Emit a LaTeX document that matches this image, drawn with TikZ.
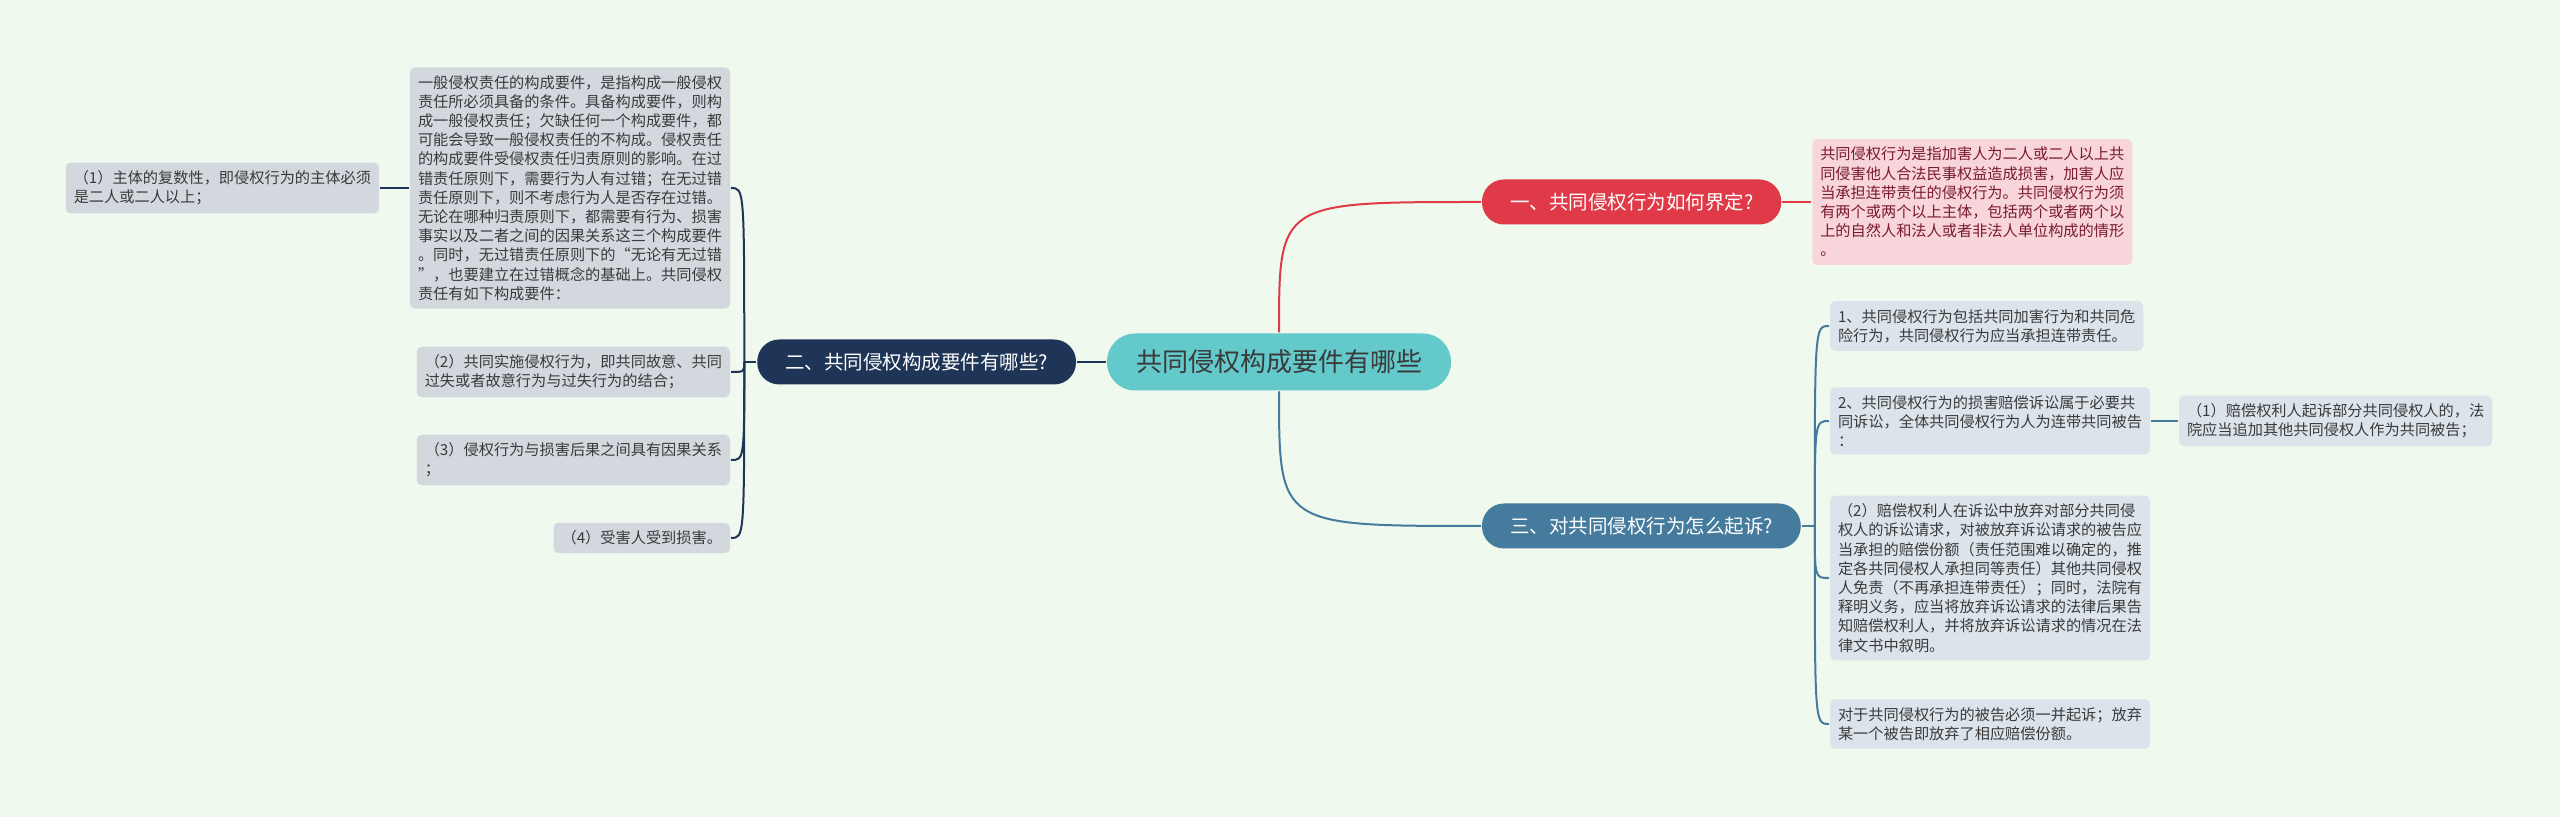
\documentclass[tikz,border=0pt]{standalone}
\usepackage{fontspec}
\setmainfont{Noto Sans CJK SC}
\usetikzlibrary{positioning}

\definecolor{bgc}{HTML}{F0F9EE}
\definecolor{rootc}{HTML}{63C9CB}
\definecolor{redc}{HTML}{E03A48}
\definecolor{navyc}{HTML}{1E3557}
\definecolor{steelc}{HTML}{457B9D}
\definecolor{pinkc}{HTML}{F8D5DA}
\definecolor{pinktxt}{HTML}{7A1B2B}
\definecolor{greyc}{HTML}{D3D8DF}
\definecolor{bluegreyc}{HTML}{DCE4EB}
\definecolor{txtc}{HTML}{3A3A3A}

\begin{document}
\begin{tikzpicture}[x=0.5pt, y=-0.5pt, line width=1pt]
\tikzstyle{root}=[fill=rootc, text=txtc, rounded corners=14pt, minimum height=28.5pt, inner xsep=14.5pt, font=\fontsize{13}{15}\selectfont]
\tikzstyle{topic}=[text=white, rounded corners=11pt, minimum height=22.5pt, inner xsep=14pt, font=\fontsize{9.75}{11}\selectfont]
\tikzstyle{leaf}=[fill=greyc, text=txtc, rounded corners=2.5pt, align=left, inner xsep=4pt, inner ysep=4pt, font=\fontsize{7.6}{9.6}\selectfont]
\tikzstyle{rleaf}=[leaf, fill=bluegreyc]
\tikzstyle{hook}=[to path={.. controls (\tikztostart |- \tikztotarget) .. (\tikztotarget) \tikztonodes}]

\fill[bgc] (0,0) rectangle (2560,817);
\useasboundingbox (0,0) rectangle (2560,817);

% main topics
\node[root]                            (c)  at (1279,362) {共同侵权构成要件有哪些};
\node[topic, fill=redc, anchor=west]   (n1) at (1481,202) {一、共同侵权行为如何界定?};
\node[topic, fill=navyc, left=14.5pt of c] (n2) {二、共同侵权构成要件有哪些?};
\node[topic, fill=steelc, anchor=west] (n3) at (1481,526) {三、对共同侵权行为怎么起诉?};

% branch one
\node[leaf, fill=pinkc, text=pinktxt, right=14.5pt of n1] (r1) {共同侵权行为是指加害人为二人或二人以上共\\
同侵害他人合法民事权益造成损害，加害人应\\
当承担连带责任的侵权行为。共同侵权行为须\\
有两个或两个以上主体，包括两个或者两个以\\
上的自然人和法人或者非法人单位构成的情形\\
。};

% branch two
\node[leaf, anchor=east] (l0) at (731,188) {一般侵权责任的构成要件，是指构成一般侵权\\
责任所必须具备的条件。具备构成要件，则构\\
成一般侵权责任；欠缺任何一个构成要件，都\\
可能会导致一般侵权责任的不构成。侵权责任\\
的构成要件受侵权责任归责原则的影响。在过\\
错责任原则下，需要行为人有过错；在无过错\\
责任原则下，则不考虑行为人是否存在过错。\\
无论在哪种归责原则下，都需要有行为、损害\\
事实以及二者之间的因果关系这三个构成要件\\
。同时，无过错责任原则下的“无论有无过错\\
”，也要建立在过错概念的基础上。共同侵权\\
责任有如下构成要件：};
\node[leaf, left=14.5pt of l0] (l1) {（1）主体的复数性，即侵权行为的主体必须\\
是二人或二人以上；};
\node[leaf, anchor=east] (l2) at (731,372) {（2）共同实施侵权行为，即共同故意、共同\\
过失或者故意行为与过失行为的结合；};
\node[leaf, anchor=east] (l3) at (731,460) {（3）侵权行为与损害后果之间具有因果关系\\
；};
\node[leaf, anchor=east] (l4) at (731,538) {（4）受害人受到损害。};

% branch three
\node[rleaf, anchor=west] (r2) at (1829,326) {1、共同侵权行为包括共同加害行为和共同危\\
险行为，共同侵权行为应当承担连带责任。};
\node[rleaf, anchor=west] (r3) at (1829,421) {2、共同侵权行为的损害赔偿诉讼属于必要共\\
同诉讼，全体共同侵权行为人为连带共同被告\\
：};
\node[rleaf, right=13.5pt of r3] (r3a) {（1）赔偿权利人起诉部分共同侵权人的，法\\
院应当追加其他共同侵权人作为共同被告；};
\node[rleaf, anchor=west] (r4) at (1829,578) {（2）赔偿权利人在诉讼中放弃对部分共同侵\\
权人的诉讼请求，对被放弃诉讼请求的被告应\\
当承担的赔偿份额（责任范围难以确定的，推\\
定各共同侵权人承担同等责任）其他共同侵权\\
人免责（不再承担连带责任）；同时，法院有\\
释明义务，应当将放弃诉讼请求的法律后果告\\
知赔偿权利人，并将放弃诉讼请求的情况在法\\
律文书中叙明。};
\node[rleaf, anchor=west] (r5) at (1829,724) {对于共同侵权行为的被告必须一并起诉；放弃\\
某一个被告即放弃了相应赔偿份额。};

\coordinate (h2) at ([xshift=-6pt]n2.west);
\coordinate (h3) at ([xshift=6.5pt]n3.east);

\path
(c.north) edge[hook, redc]    (n1.west)
(c.south) edge[hook, steelc]  (n3.west)
(c.west)  edge[navyc]         (n2.east)
(n1.east) edge[redc]          (r1.west)

(n2.west) edge[navyc]         (h2)
(h2)      edge[hook, navyc]   (l0.east)
(h2)      edge[hook, navyc]   (l2.east)
(h2)      edge[hook, navyc]   (l3.east)
(h2)      edge[hook, navyc]   (l4.east)
(l0.west) edge[navyc]         (l1.east)

(n3.east) edge[steelc]        (h3)
(h3)      edge[hook, steelc]  (r2.west)
(h3)      edge[hook, steelc]  (r3.west)
(h3)      edge[hook, steelc]  (r4.west)
(h3)      edge[hook, steelc]  (r5.west)
(r3.east) edge[steelc]        (r3a.west);

\end{tikzpicture}
\end{document}
